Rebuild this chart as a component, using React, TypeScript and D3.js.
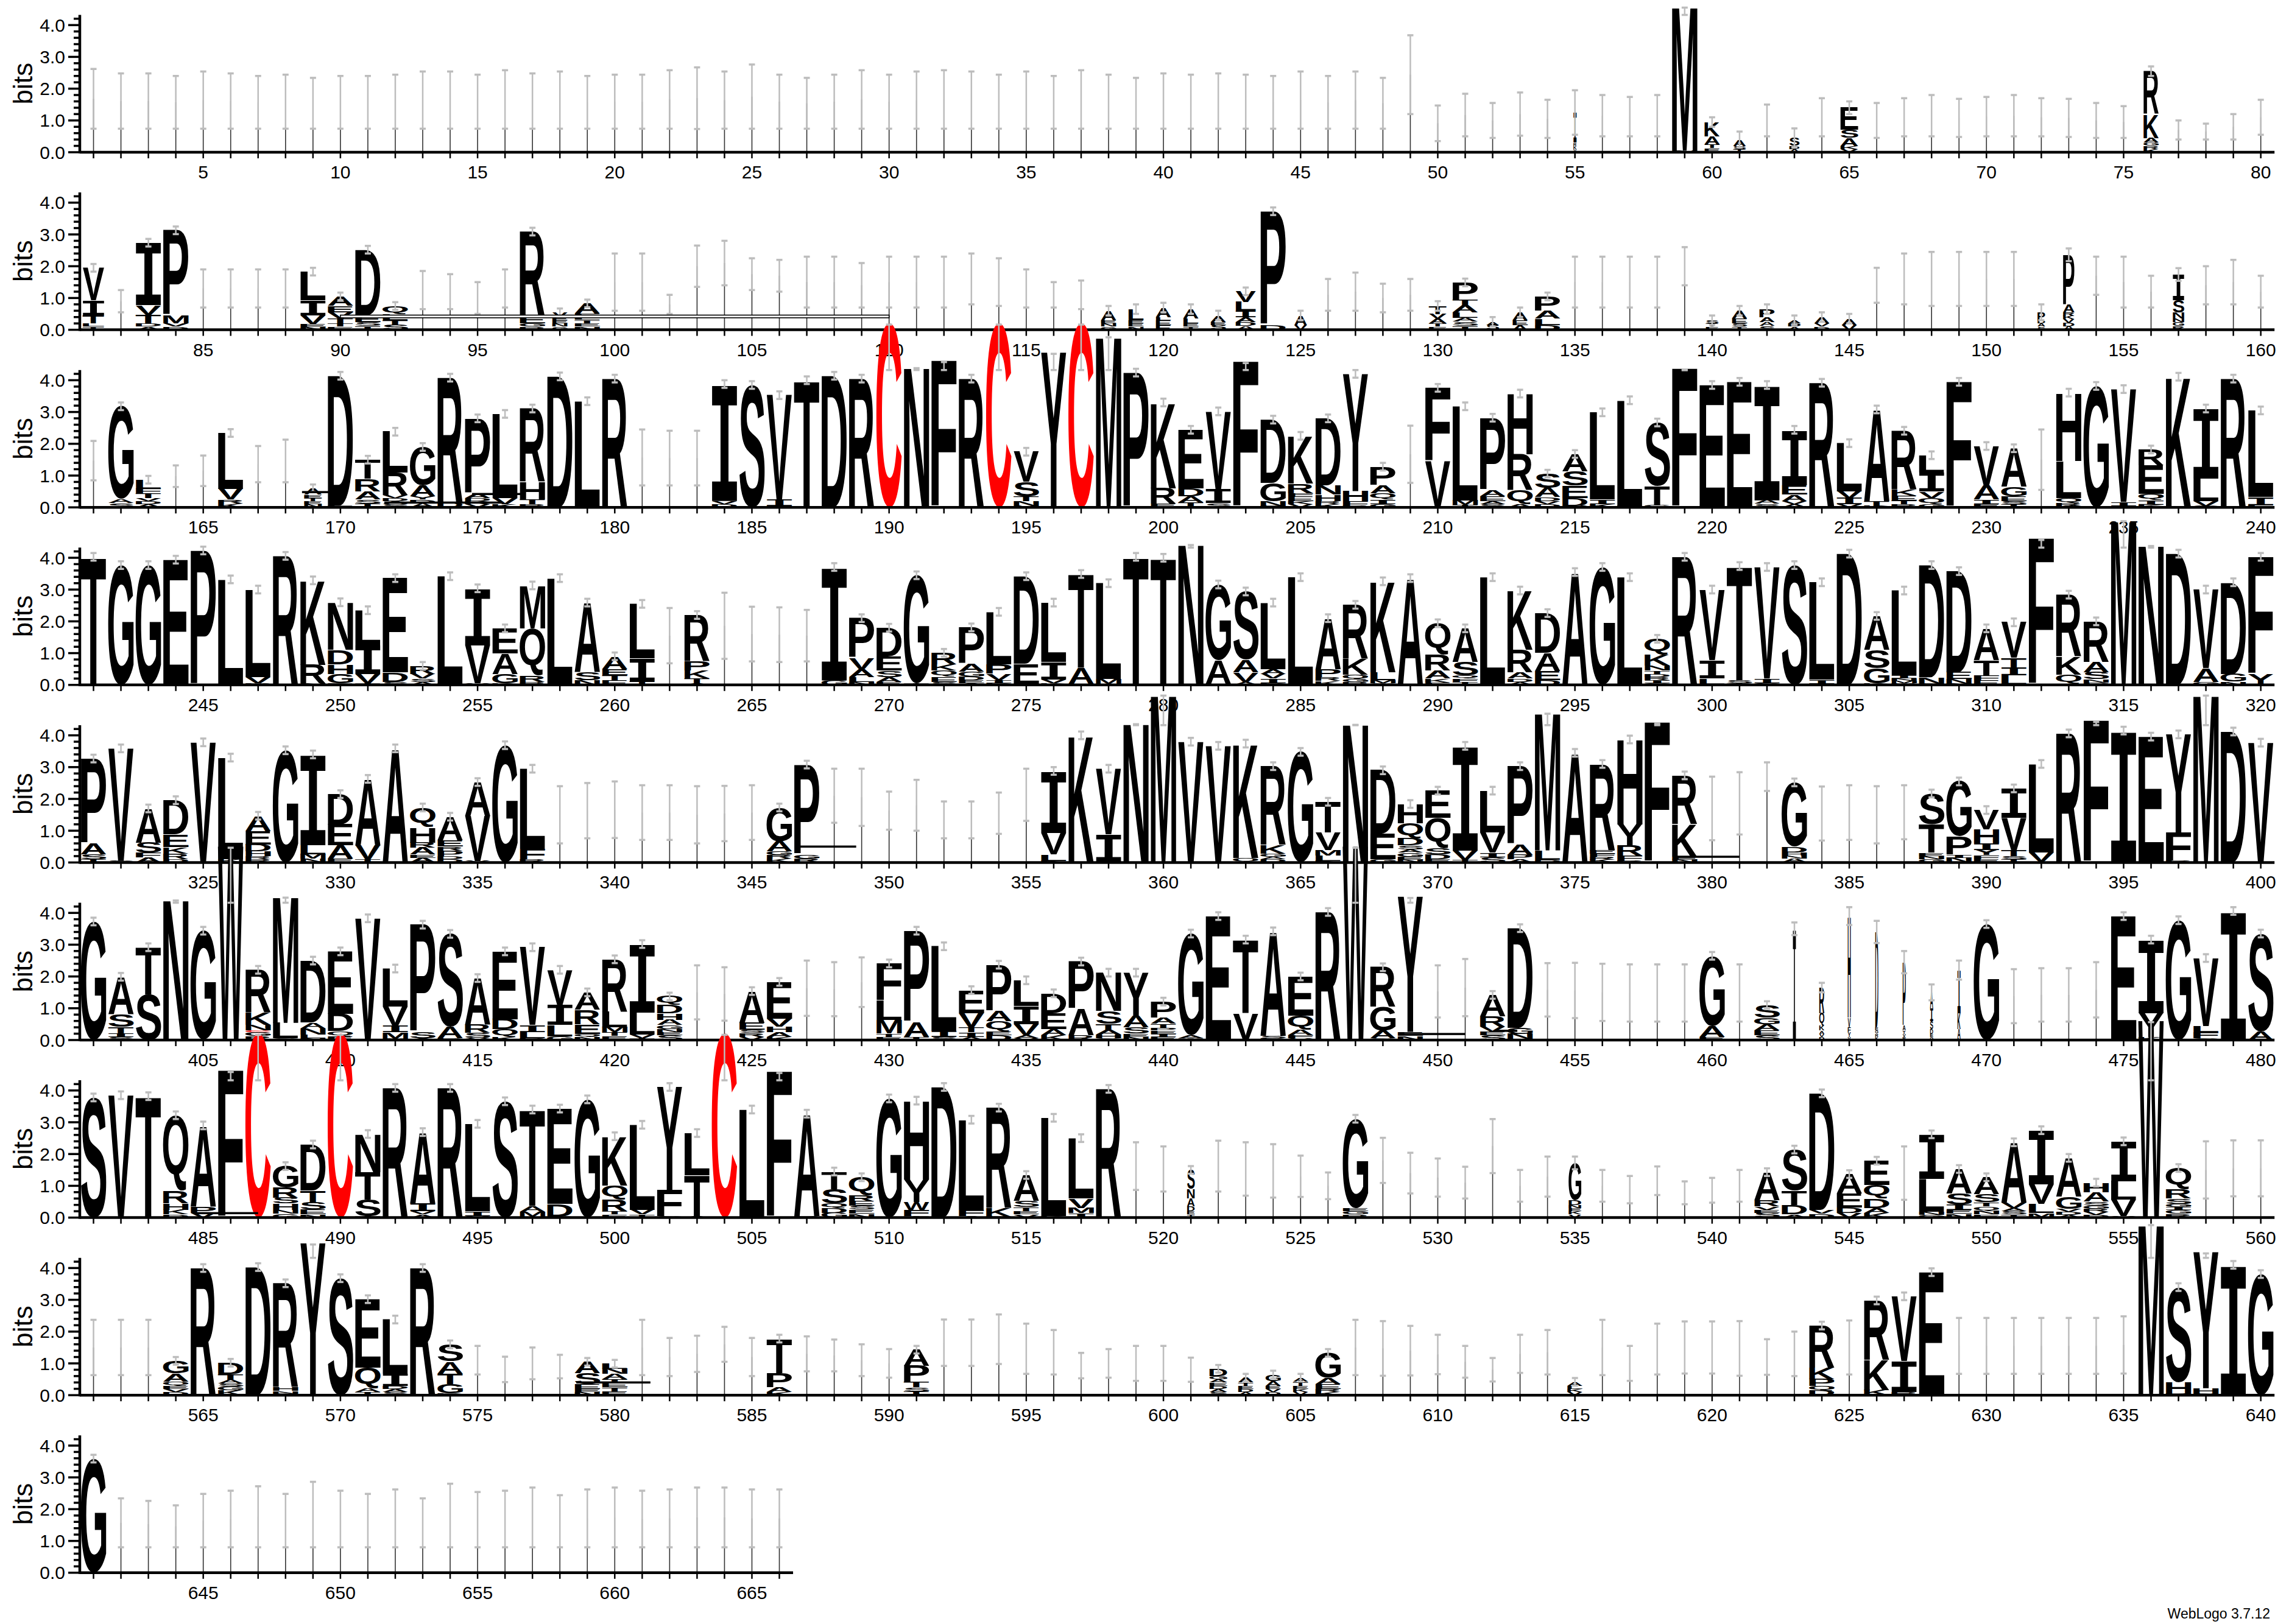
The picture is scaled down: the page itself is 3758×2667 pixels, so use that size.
import React from 'react';
import * as d3 from 'd3';

const WIDTH = 3758;
const HEIGHT = 2667;
const AXIS_X = 131;
const COL_W = 45.04;
const PER_ROW = 80;
const ROW0_BASE = 250;
const ROW_STEP = 291.6;
const BIT_PX = 52.2;
const Y_MAX = 4.32;

// Column specs, listed bottom -> top. "A1.2" = letter A of 1.2 bits; "x" = mixed minor residues;
// "~c/e" = gappy (narrow) column whose stack reaches c bits with error e; "w" = width fraction; "e" = error half size.
const row1 = [
  "~1.68/.94","~1.61/.87","~1.61/.87","~1.57/.83","~1.64/.9","~1.61/.87","~1.57/.83","~1.59/.85","~1.54/.8","~1.57/.83",
  "~1.57/.83","~1.59/.85","~1.64/.9","~1.64/.9","~1.59/.85","~1.66/.92","~1.61/.87","~1.64/.9","~1.57/.83","~1.59/.85",
  "~1.59/.85","~1.66/.92","~1.7/.97","~1.64/.9","~1.75/1.01","~1.59/.85","~1.54/.8","~1.59/.85","~1.66/.92","~1.59/.85",
  "~1.64/.9","~1.66/.92","~1.64/.9","~1.59/.85","~1.64/.9","~1.57/.83","~1.66/.92","~1.59/.85","~1.54/.8","~1.61/.87",
  "~1.59/.85","~1.61/.87","~1.59/.85","~1.57/.83","~1.64/.9","~1.57/.83","~1.64/.9","~1.54/.8","~2.44/1.24","~.91/.56",
  "~1.17/.67","~1/.55","~1.2/.68","~1.05/.6","w.12 x.3 I.95 e.7","~1.15/.65","~1.12/.62","~1.15/.65","x.05 M4.55","w.6 x.25 A.25 K.45 e.15",
  "w.5 x.2 A.2 e.25","~1/.5","w.4 x.2 S.25 e.3","~1.1/.6","w.7 x.2 A.25 S.25 E.7 e.2","~1/.55","~1.1/.6","~1.15/.65","~1.08/.6","~1.12/.62",
  "~1.15/.65","~1.1/.6","~1.08/.6","~1/.55","~.95/.5","w.6 x.3 A.15 K.75 R1.35 e.15","~.7/.3","~.65/.25","~.8/.4","~1.1/.55",
];
const row2 = [
  "w.85 x.1 L.1 T.25 I.48 V1.02","~.9/.35","x.2 T.28 V.29 I1.97","x.2 M.25 P2.68","~1.3/.6","~1.3/.6","~1.3/.6","~1.3/.6","x.19 V.26 I.48 L.9","x.2 T.15 V.2 E.2 A.3",
  "x.25 E.2 D2.07","x.15 T.15 L.2 Q.25","~1.25/.6","~1.2/.55","~1/.5","~1.3/.6","x.2 E.21 R2.68","w.6 x.3 E.1 V.15","x.31 L.1 E.1 A.32","~1.5/.9",
  "~1.5/.9","~.8/.3","~2/.65","~2.1/.7","~1.75/.5","~1.7/.5","~1.5/.8","~1.5/.8","~1.4/.7","~1.5/.8",
  "~1.5/.8","~1.5/.8","~1.6/.8","~1.5/.75","~1.3/.6","~1.1/.4","~1.1/.45","w.6 x.2 E.1 A.3 e.15","w.6 x.2 E.1 L.35 e.15","w.6 x.15 E.15 L.1 A.3 e.15",
  "w.6 x.1 E.1 L.15 A.3 e.15","w.6 x.15 E.1 A.2 e.15","w.8 x.25 A.15 I.2 L.28 V.33","x.15 P3.58","w.5 x.15 A.3 e.15","~1.1/.5","~1.2/.6","~1/.45","~1.1/.5","w.7 x.2 A.15 V.15 T.25 e.15",
  "x.38 L.16 A.23 T.16 P.56","w.5 x.15 A.1 e.15","w.6 x.15 E.15 A.25 e.15","x.15 L.2 A.25 P.45","~1.5/.8","~1.5/.8","~1.5/.8","~1.5/.8","~2/.6","w.5 x.3 e.15",
  "w.6 x.2 E.15 A.25 e.15","w.6 x.25 A.15 P.25 e.15","w.5 x.2 A.1 e.15","w.6 x.2 A.2 e.15","w.6 x.15 A.2 e.15","~1.4/.55","~1.6/.8","~1.6/.85","~1.6/.85","~1.6/.85",
  "~1.6/.85","w.3 x.3 P.25 e.25","w.45 x.55 A.25 P1.56 e.2","~1.7/.6","~1.5/.8","~1.2/.5","w.45 x.35 N.19 S.39 I.81 e.2","~1.4/.6","~1.5/.7","~1.2/.5",
];
const row3 = [
  "~1.47/.62","x.26 G2.92","x.3 T.14 F.14 L.29","~.98/.34","~1.15/.48","x.25 V.33 L1.76","~1.36/.57","~1.46/.67","w.7 x.3 E.1 A.2","x.05 D4.09",
  "x.25 A.25 R.4 T.6","x.39 R.7 L1.29","x.25 Y.1 A.35 G1.2","x.15 R3.93","x.2 D.1 A.15 P2.35","x.1 V.2 L2.64","x.1 T.15 H.55 R2.31","D4.12","x.03 L3.31","R4.05",
  "~1.57/.88","~1.55/.86","~1.55/.86","x.1 V.1 I3.68","S3.85","x.05 I.2 V3.28","T4","D4.14","R4.05","C5.8",
  "N4.43","F4.62","R4.05","C5.8","x.05 N.15 T.15 S.45 V.95","Y4.88","C5.8","M5.4","P4.24","x.12 R.48 K2.7",
  "x.15 A.2 D.25 E1.84","x.13 I.45 V2.44","F4.59","x.05 N.14 G.58 D1.99","x.2 E.15 F.1 R.3 K1.5","x.2 H.2 N.3 D2.1","x.04 F.15 H.32 Y3.69","x.1 I.15 Q.2 A.25 P.58","~1.67/.9","V1.45 F2.31",
  "x.08 M.14 L2.96","x.2 E.15 A.2 P2.27","x.1 Q.45 R1.12 H1.91","x.2 D.12 A.3 S.44","x.05 D.25 E.38 S.45 A.55","x.1 I.15 L2.74","x.05 L3.32","x.07 T.6 S2","F4.37","E3.85",
  "E3.95","x.22 I3.63","x.1 V.1 A.2 E.3 I1.74","R3.92","x.1 I.2 V.21 L1.51","x.05 T.14 A2.89","x.1 T.12 E.15 K.2 R1.84","x.1 Q.2 V.2 I.6 L.54","F3.95","x.1 I.15 A.45 V1.23",
  "x.2 E.15 G.3 A1.21","~1.5/.95","x.05 R.1 Q.15 L1.16 H2.15","G3.82","x.05 I.12 V3.55","x.08 I.14 Q.2 E.9 R.5","K4.11","x.05 V.14 L.71 I2.21","R4.05","x.06 I.26 L2.73",
];
const row4 = [
  "T4.03","G3.77","G3.77","E3.94","P4.23","L3.32","x.05 V.2 L2.75","R4.06","x.05 R.58 K2.66","x.05 G.3 H.3 D.45 N1.5",
  "x.05 V.3 I.9 L1.1","x.1 D.3 E2.96","x.1 S.1 V.15 R.25","x.04 L3.38","x.05 V1.2 I1.79","x.05 G.3 A.65 E.78","x.1 R.2 Q1.48 M1.35","x.04 L3.32","x.15 S.25 A2.19","x.15 T.15 E.2 A.4",
  "x.12 I.72 L1.71","~1.55/.87","x.05 T.15 K.25 P.3 R1.45","~1.86/1.04","~1.6/.86","~1.58/.86","~1.55/.81","x.14 I3.57","x.1 L.15 A.25 V.35 P1.25","x.1 A.15 S.2 E.45 D.9",
  "x.05 G3.4","x.1 E.15 Q.2 K.2 R.36","x.05 E.1 D.12 G.15 A.25 P1.14","x.05 I.1 V.2 P.3 L1.65","x.04 E.62 D2.76","x.05 V.12 I.55 L1.87","x.03 A.5 T2.96","x.03 M.15 L3.02","T4.03","T4",
  "N4.45","x.03 A.75 G2.38","x.1 V.3 A.4 S2.14","x.05 I.15 V.15 A.15 L2.09","x.03 L3.36","x.25 P.25 A1.6","x.18 Q.15 K.49 R1.7","x.05 M.1 L.25 K2.86","A3.36","x.08 K.12 A.25 R.5 Q.99",
  "x.1 F.1 Q.1 S.42 A1.06","L3.39","x.2 A.2 R.7 K1.87","x.14 E.29 A.58 D1.25","A3.55","G3.71","L3.39","x.05 I.1 R.1 D.1 T.1 N.15 K.35 Q.5","R4.03","x.02 L.18 I.58 V2.22",
  "x.05 S.1 T3.59","x.05 I.15 V3.51","S3.77","x.04 I.12 L3.07","D4.13","x.05 G.48 S.57 A1.07","x.05 M.08 N.08 I.09 L2.67","x.04 N.2 D3.53","x.04 N.15 E.21 D3.18","x.15 F.15 T.48 A1",
  "x.02 L.28 I.25 T.3 V1.12","F4.61","x.03 Q.3 K.58 R1.93","x.08 N.1 S.22 A.32 R1.28","M5.2","N4.42","D4.13","x.1 A.43 V2.47","x.1 G.25 D2.88","x.02 Y.31 F3.7",
];
const row5 = [
  "x.1 S.16 A.35 P2.66","x.05 V3.54","x.15 F.15 S.33 A1.07","x.1 R.18 K.2 E.4 D1.08","V3.78","x.1 L3.2","x.1 R.1 H.15 D.22 E.42 A.48","G3.53","x.12 M.14 L.29 I2.85","x.13 A.41 E.65 D.96",
  "x.1 V.44 A2.09","A3.59","x.15 E.1 A.22 R.16 H.48 Q.62","x.1 D.1 P.17 R.13 E.19 A.75","x.05 V1.42 A1.06","G3.69","x.1 F.32 L2.53","~1.5/.9","~1.63/.87","~1.66/.89",
  "~1.57/.86","~1.57/.86","~1.5/.9","~1.54/.87","~1.57/.86","x.35 A.32 G1.06","x.26 P2.82","~2.1/.85","~2.05/.9","~1.63/.6",
  "~1.8/.8","~1.34/.58","~1.34/.58","~1.55/.65","~2.13/.82","x.05 L.2 V.67 I1.96","K4","x.03 I.85 V2.07","N4.4","M5.3",
  "V3.8","V3.67","x.02 Q.12 K3.6","x.1 A.08 G.1 K.28 R2.47","G3.48","x.05 L.16 M.18 V.55 T.97","N4.38","x.1 E.8 D2","x.18 G.13 A.1 S.13 D.22 Q.48 H.6","x.1 D.15 S.2 Q.95 E.86",
  "x.08 V.29 I3.3","x.16 I.15 V.64 L1.31","x.1 P.14 A.32 P2.47","x.08 L.3 M4.35","A3.45","x.18 F.1 E.12 R2.7","x.05 F.17 R.32 Y.65 H2.68","F4.41","x.18 K1.03 R1.53","~1.7/1",
  "~1.86/.98","~2.7/.45","x.12 N.1 H.1 D.17 G2.03","~1.54/.85","~1.57/.86","~1.5/.9","~1.58/.85","x.31 T.9 S.96","x.14 I.1 P.58 G1.73","x.1 F.13 Y.16 I.22 H.44 V.6",
  "x.2 T.2 V1 I.93","x.02 V.3 L2.78","R4.06","F4.47","I4.15","E3.96","x.05 F.9 Y3.08","M5.3","D4.12","V3.77",
];
const row6 = [
  "G3.73","x.1 I.12 T.2 S.4 A1.17","S1.44 T1.48","N4.44","G3.44","W6.1","x.25 C.06 N.16 K.39 R1.35","x.05 L.49 M3.99","x.05 L.12 N.2 A.18 D1.95","x.12 Q.16 D.55 E1.96",
  "V3.83","x.04 M.2 I.2 V.61 L1.2","x.05 S.2 P3.38","x.05 A.36 S2.93","x.08 S.15 R.26 A1.46","x.1 Q.24 D.32 E2.13","x.05 L.2 I.22 V2.45","x.12 L.35 I.65 V1.09","x.1 Q.1 E.3 R.45 A.55","x.25 M.16 L.48 R1.65",
  "x.05 V.12 L.69 I2.16","x.15 E.1 N.1 G.13 A.16 H.2 D.26 Q.27","~1.5/.85","~1.45/.84","x.1 R.12 S.1 E.22 A1","x.1 A.15 H.17 V.25 E1.16","~1.63/.87","~1.6/.85","~1.82/.78","x.21 M.42 L.62 F1.16",
  "x.1 A.48 P2.86","x.1 I.18 L2.67","x.1 I.15 T.15 V.45 E.72","x.15 E.12 Q.33 A.32 P1.45","x.05 A.1 V.35 I.58 L.8","x.15 A.2 E.5 D.62","x.15 A.84 P1.48","x.05 H.12 A.14 T.2 S.4 N1.21","x.2 S.2 A.36 Y1.36","x.1 I.1 E.1 P.08 T.13 A.2 P.5",
  "x.05 A.1 G3.2","E3.9","V.84 T2.32","x.05 S.08 A3.29","x.05 F.1 A.17 Q.45 E1.23","R4.03","W6.1","x.05 A.25 G.75 R1.24","x.26 Y4.26","~1.53/.82",
  "~1.65/.9","x.15 E.12 V.15 R.32 A.68","x.03 N.16 G.2 D3.13","~1.58/.84","~1.56/.87","~1.5/.9","~1.48/.9","~1.48/.9","~1.48/.9","x.1 A.35 G2.2",
  "~1.48/.9","x.16 E.14 A.2 G.2 S.4","w.12 I3.5 e.2","w.2 x.2 A.1 K.15 Q.4 R.8 e.15","w.12 x.1 Y.15 F.15 V.3 H3.2 e.28","w.12 x.3 E.1 D3 e.35","w.12 x.1 V.1 T.1 A.15 P2 e.35","w.12 x.1 E.1 D.15 S.25 I.4 A.5 e.25","w.12 x.05 A.3 K.5 I1.35 e.3","G3.65",
  "~1.38/.85","~1.42/.84","~1.42/.84","~1.58/.87","E3.9","x.1 Y.75 I2.31","G3.77","x.05 F.2 L.2 V2.13","I4.06","A.26 S3.09",
];
const row7 = [
  "S3.78","V3.85","x.03 T3.79","x.1 K.15 H.2 R.4 Q2.37","x.15 P.2 A2.55","F4.63","C5.8","x.24 H.2 S.19 R.32 G.67","x.1 E.15 S.22 T.38 D1.45","C5.8",
  "x.04 S.52 T.87 N1.2","R4.08","x.1 V.1 I.25 A2.24","R4.08","x.05 I.15 L2.75","S3.66","x.03 M.15 A.17 T3.05","x.04 D.39 E3","G3.72","x.2 R.36 Q.45 K1.55",
  "x.1 V.15 L2.67","x.04 F.84 Y3.23","x.04 T1.3 L1.32","C5.8","L3.4","F4.6","x.05 A3.22","x.15 D.15 Q.15 S.45 T.55","x.25 S.12 E.14 R.2 Q.56","G3.75",
  "x.04 F.2 W.25 Y.71 H2.48","D4.11","x.05 F.2 L2.83","x.04 K.26 R3.16","x.1 E.1 T.13 S.2 A.81","x.05 L3.09","x.02 I.12 M.16 V.3 L1.9","R4.05","~1.62/.75","~1.53/.71",
  "w.3 x.1 E.1 D.15 A.25 N.3 S.6","~1.62/.8","~1.53/.84","~1.47/.84","~1.3/.65","~1/.42","x.2 E.1 G2.81","~1.8/.71","~1.4/.64","~1.26/.6",
  "~1.1/.5","~2.25/.85","~1/.5","~1.29/.63","w.5 x.2 E.1 N.1 D.15 G1.17 e.2","~1/.5","~.88/.43","~1.16/.45","~.78/.36","~.86/.39",
  "~1/.5","x.15 E.1 V.1 R.2 A.88","x.1 D.3 T.45 S1.29","x.24 D3.67","x.15 D.16 E.45 A.61","x.15 A.15 D.3 Q.42 E.77","~1.4/.84","x.18 L1.03 I1.41","x.25 I.16 S.35 A.77","x.1 N.12 Q.13 T.13 S.25 A.54",
  "x.3 V.17 A1.9","x.02 M.12 L.3 V.6 I1.71","x.28 G.38 A1.22","x.18 R.1 G.1 S.13 A.29 H.3","x.05 V.52 L.58 I1.25","W6.2","x.24 I.1 G.1 S.16 R.29 Q.67","~1.5/.9","~1.55/.88","~1.55/.88",
];
const row8 = [
  "~1.5/.87","~1.5/.87","~1.5/.87","x.2 E.1 Q.13 A.25 G.4","R4","x.15 G.12 S.1 A.12 T.16 D.37","D4.03","x.05 N.08 H.12 R3.27","Y4.79","S3.68",
  "x.1 A.12 Q.64 E2.16","x.29 I.38 L1.71","R4","x.05 G.3 T.33 A.38 S.54","~1.1/.45","~.81/.4","~1/.5","~.9/.37","x.2 E.14 S.35 A.36","x.25 E.14 T.12 A.16 N.16 L.16",
  "~1.5/.87","~1.2/.6","~1.3/.57","~1.6/.55","~1.2/.6","x.1 A.15 P.45 T1.08","~1.3/.55","~1.25/.5","~1.1/.5","~1/.45",
  "x.25 T.16 P.51 A.51","~1.65/.73","~1.65/.73","~1.76/.78","~1.46/.79","~1.35/.7","~.93/.4","~1/.45","~1/.55","~1/.55",
  "~.8/.38","w.7 x.3 E.1 A.1 G.1 D.23","w.6 x.2 E.1 T.1 A.15","w.6 x.2 E.1 A.15 G.2","w.6 x.2 E.1 T.13 A.12","x.2 E.15 A.2 G.78","~1.5/.87","~1.47/.86","~1.4/.78","~1.28/.62",
  "~1.05/.5","~.8/.37","~1.3/.6","~1.35/.7","w.6 x.2 L.1 A.12","~1.5/.87","~1/.55","~1.45/.8","~1.5/.82","~1.5/.82",
  "~1.47/.86","~1.2/.56","~1.3/.7","x.15 Q.14 P.22 K.36 R1.32","~1.5/.85","x.16 K.95 R1.87","x.1 I.98 V2.03","E3.87","~1.55/.88","~1.55/.88",
  "~1.55/.88","~1.55/.88","~1.55/.88","~1.55/.88","~1.58/.9","M5.4","x.05 H.36 S2.99","x.05 H.17 Y4.29","I4.1","G3.81",
];
const row9 = [
  "G3.59","~1.57/.77","~1.53/.73","~1.46/.66","~1.64/.84","~1.69/.89","~1.76/.96","~1.64/.84","~1.83/1.03","~1.69/.89",
  "~1.64/.84","~1.71/.91","~1.57/.77","~1.8/1","~1.67/.87","~1.69/.89","~1.74/.94","~1.62/.82","~1.71/.91","~1.74/.94",
  "~1.69/.89","~1.71/.91","~1.74/.94","~1.74/.94","~1.71/.91","~1.71/.91",
];
const rows = [row1, row2, row3, row4, row5, row6, row7, row8, row9];

// Stray horizontal strokes seen in the logo: from position, to position, height in bits, hollow?
const strokeFrom = [90, 168.6, 171.6, 174.8, 346.6, 378.6, 448.6, 452.1, 484.7, 578.6];
const strokeTo = [110, 170.2, 175.9, 176.7, 348.8, 381, 451, 452.9, 487, 581.3];
const strokeBits = [0.42, 0.48, 0.15, 0.42, 0.5, 0.18, 0.19, 0.29, 0.14, 0.4];
const strokeHollow = [1, 0, 0, 0, 0, 0, 0, 0, 0, 0];

const yTicks = d3.range(0, 4.21, 0.2);
const FILL = 'ETSADVKRGN';

const SANS = "'Liberation Sans', Arial, Helvetica, sans-serif";
const MONO = "'Liberation Mono', 'Courier New', monospace";

type M = { l: number; r: number; a: number; d: number };
const cache: Record<string, M> = {};
let ctx: CanvasRenderingContext2D | null = null;
function metrics(ch: string, fam: string): M {
  const k = ch + '|' + fam;
  if (cache[k]) return cache[k];
  if (!ctx) ctx = document.createElement('canvas').getContext('2d');
  let res: M = { l: -4, r: 68, a: 72, d: 0 };
  if (ctx) {
    ctx.font = `bold 100px ${fam}`;
    const m = ctx.measureText(ch);
    if (m.actualBoundingBoxRight + m.actualBoundingBoxLeft > 1) {
      res = { l: m.actualBoundingBoxLeft, r: m.actualBoundingBoxRight, a: m.actualBoundingBoxAscent, d: m.actualBoundingBoxDescent };
    }
  }
  cache[k] = res;
  return res;
}

type Glyph = { ch: string; h: number };
function parse(spec: string, pos: number) {
  let width = 1, err = 0.12;
  let thin: number | null = null;
  const glyphs: Glyph[] = [];
  for (const tok of spec.trim().split(/\s+/)) {
    if (!tok) continue;
    const c = tok[0];
    if (c === '~') {
      const [a, b] = tok.slice(1).split('/');
      thin = parseFloat(a); err = parseFloat(b); width = 0.04;
    } else if (c === 'w') width = parseFloat(tok.slice(1));
    else if (c === 'e') err = parseFloat(tok.slice(1));
    else if (c === 'x') {
      const h = parseFloat(tok.slice(1));
      const n = Math.max(1, Math.round(h / 0.11));
      for (let i = 0; i < n; i++) glyphs.push({ ch: FILL[(pos + i) % FILL.length], h: h / n });
    } else glyphs.push({ ch: c, h: parseFloat(tok.slice(1)) });
  }
  return { width, err, thin, glyphs };
}

function Letter({ ch, x0, yTop, w, h }: { ch: string; x0: number; yTop: number; w: number; h: number }) {
  if (h <= 0.2 || w <= 0.2) return null;
  const fam = ch === 'I' ? MONO : SANS;
  const m = metrics(ch, fam);
  const sx = w / (m.l + m.r);
  const sy = h / (m.a + m.d);
  return (
    <text
      x={0}
      y={0}
      fontSize={100}
      fontFamily={fam}
      fontWeight="bold"
      fill={ch === 'C' ? '#ff0000' : '#000000'}
      transform={`translate(${x0},${yTop}) scale(${sx},${sy}) translate(${m.l},${m.a})`}
    >
      {ch}
    </text>
  );
}

export default function App() {
  const els: React.ReactNode[] = [];
  rows.forEach((specs, r) => {
    const base = ROW0_BASE + r * ROW_STEP;
    const start = r * PER_ROW + 1;
    const n = specs.length;
    const x = d3.scaleLinear().domain([start - 0.5, start + PER_ROW - 0.5]).range([AXIS_X, AXIS_X + PER_ROW * COL_W]);
    const y = d3.scaleLinear().domain([0, 1]).range([base, base - BIT_PX]);
    const bars: React.ReactNode[] = [];
    specs.forEach((spec, i) => {
      const pos = start + i;
      const col = parse(spec, pos);
      const cx = x(pos);
      const w = COL_W * col.width * 0.93;
      let acc = 0;
      if (col.thin !== null) {
        els.push(<rect key={`t${pos}`} x={cx - 0.8} y={y(col.thin)} width={1.6} height={y(0) - y(col.thin)} fill="#333" />);
        acc = col.thin;
      } else {
        col.glyphs.forEach((g, j) => {
          const yb = y(acc);
          const yt = y(acc + g.h);
          els.push(<Letter key={`g${pos}_${j}`} ch={g.ch} x0={cx - w / 2} yTop={yt} w={w} h={yb - yt} />);
          acc += g.h;
        });
      }
      let lo: number, hi: number;
      if (acc > 4.35) { lo = Y_MAX; hi = acc - 0.05; } else { lo = Math.max(0, acc - col.err); hi = acc + col.err; }
      bars.push(
        <g key={`b${pos}`} stroke="#bdbdbd">
          <line x1={cx} x2={cx} y1={y(lo)} y2={y(hi)} strokeWidth={2.5} />
          <line x1={cx - 5} x2={cx + 5} y1={y(lo)} y2={y(lo)} strokeWidth={3.5} />
          <line x1={cx - 5} x2={cx + 5} y1={y(hi)} y2={y(hi)} strokeWidth={3.5} />
        </g>
      );
    });
    els.push(...bars);
    // stray strokes
    strokeFrom.forEach((f, k) => {
      if (f < start - 0.5 || f > start + PER_ROW - 0.5) return;
      const x1 = x(f), x2 = x(strokeTo[k]);
      const yy = y(strokeBits[k]);
      els.push(
        strokeHollow[k]
          ? <rect key={`s${k}`} x={x1} y={yy - 2.2} width={x2 - x1} height={4.4} fill="#fff" stroke="#000" strokeWidth={1.6} />
          : <rect key={`s${k}`} x={x1} y={yy - 1.75} width={x2 - x1} height={3.5} fill="#000" />
      );
    });
    // x axis
    const xEnd = x(start + n - 0.5);
    els.push(<line key={`xa${r}`} x1={AXIS_X} x2={xEnd} y1={base} y2={base} stroke="#000" strokeWidth={4.5} />);
    for (let i = 0; i < n; i++) {
      const pos = start + i;
      const cx = x(pos);
      els.push(<line key={`xt${pos}`} x1={cx} x2={cx} y1={base} y2={base + 10} stroke="#000" strokeWidth={2.5} />);
      if (pos % 5 === 0) {
        els.push(
          <text key={`xl${pos}`} x={cx} y={base + 43} fontSize={30} fontFamily={SANS} textAnchor="middle" fill="#000">
            {pos}
          </text>
        );
      }
    }
    // y axis
    els.push(<line key={`ya${r}`} x1={AXIS_X} x2={AXIS_X} y1={base + 2} y2={y(Y_MAX)} stroke="#000" strokeWidth={4.5} />);
    yTicks.forEach((v) => {
      const major = Math.abs(v - Math.round(v)) < 1e-6;
      const yy = y(v);
      els.push(<line key={`yt${r}_${v.toFixed(1)}`} x1={AXIS_X - (major ? 19 : 10)} x2={AXIS_X} y1={yy} y2={yy} stroke="#000" strokeWidth={3.5} />);
      if (major) {
        els.push(
          <text key={`yl${r}_${v}`} x={107} y={yy + 10.5} fontSize={30} fontFamily={SANS} textAnchor="end" fill="#000">
            {d3.format('.1f')(v)}
          </text>
        );
      }
    });
    const mid = y(Y_MAX / 2);
    els.push(
      <text key={`bits${r}`} x={0} y={0} fontSize={44} fontFamily={SANS} textAnchor="middle" fill="#000" transform={`translate(53,${mid}) rotate(-90)`}>
        bits
      </text>
    );
  });

  return (
    <svg
      width={WIDTH}
      height={HEIGHT}
      viewBox={`0 0 ${WIDTH} ${HEIGHT}`}
      style={{ position: 'absolute', left: 0, top: 0, background: '#fff', display: 'block' }}
    >
      <rect x={0} y={0} width={WIDTH} height={HEIGHT} fill="#fff" />
      {els}
      <text x={3727} y={2658} fontSize={23} fontFamily={SANS} textAnchor="end" fill="#000">
        WebLogo 3.7.12
      </text>
    </svg>
  );
}
